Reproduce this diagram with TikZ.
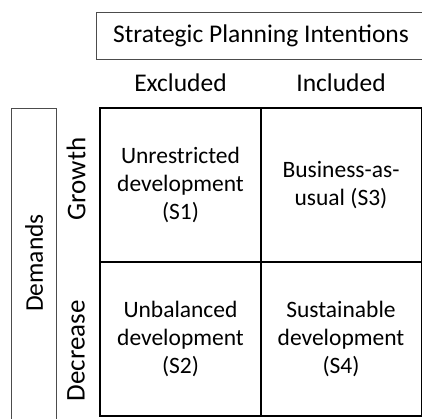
\documentclass[tikz,border=0pt]{standalone}
\usepackage{fontspec}
\setmainfont{Carlito}
\tikzset{
  cell/.style={draw=black, line width=1.4pt, minimum width=161pt, minimum height=154pt, align=center, inner sep=0pt, font=\fontsize{23.5}{28}\selectfont},
  label/.style={font=\fontsize{25.5}{30}\selectfont, inner sep=0pt}
}
\begin{document}
\begin{tikzpicture}[x=1pt, y=-1pt]

  % Page frame
  \useasboundingbox (0,0) rectangle (422,418);
  \clip (0,0) rectangle (422,418);

  % Title box
  \node[draw=black!70, line width=0.8pt, minimum width=330pt, minimum height=47pt, label] (title) at (261,35.5) {Strategic Planning Intentions};

  % Column headers
  \node[label] (excl) at (180.5,83) {Excluded};
  \node[label] (incl) at (341,83) {Included};

  % Demands box
  \draw[black!70, line width=0.8pt] (11,430) -- (11,108) -- (56,108) -- (56,430);
  \node[label, rotate=90] (demands) at (34,263) {Demands};

  % Row headers
  \node[label, font=\fontsize{27}{32}\selectfont, rotate=90] (growth) at (76,179) {Growth};
  \node[label, font=\fontsize{27}{32}\selectfont, rotate=90] (decrease) at (76,351) {Decrease};

  % Scenario grid
  \node[cell] (s1) at (180.5,185) {Unrestricted\\development\\(S1)};
  \node[cell] (s3) at (341,185) {Business-as-\\usual (S3)};
  \node[cell] (s2) at (180.5,339) {Unbalanced\\development\\(S2)};
  \node[cell] (s4) at (341,339) {Sustainable\\development\\(S4)};

\end{tikzpicture}
\end{document}
